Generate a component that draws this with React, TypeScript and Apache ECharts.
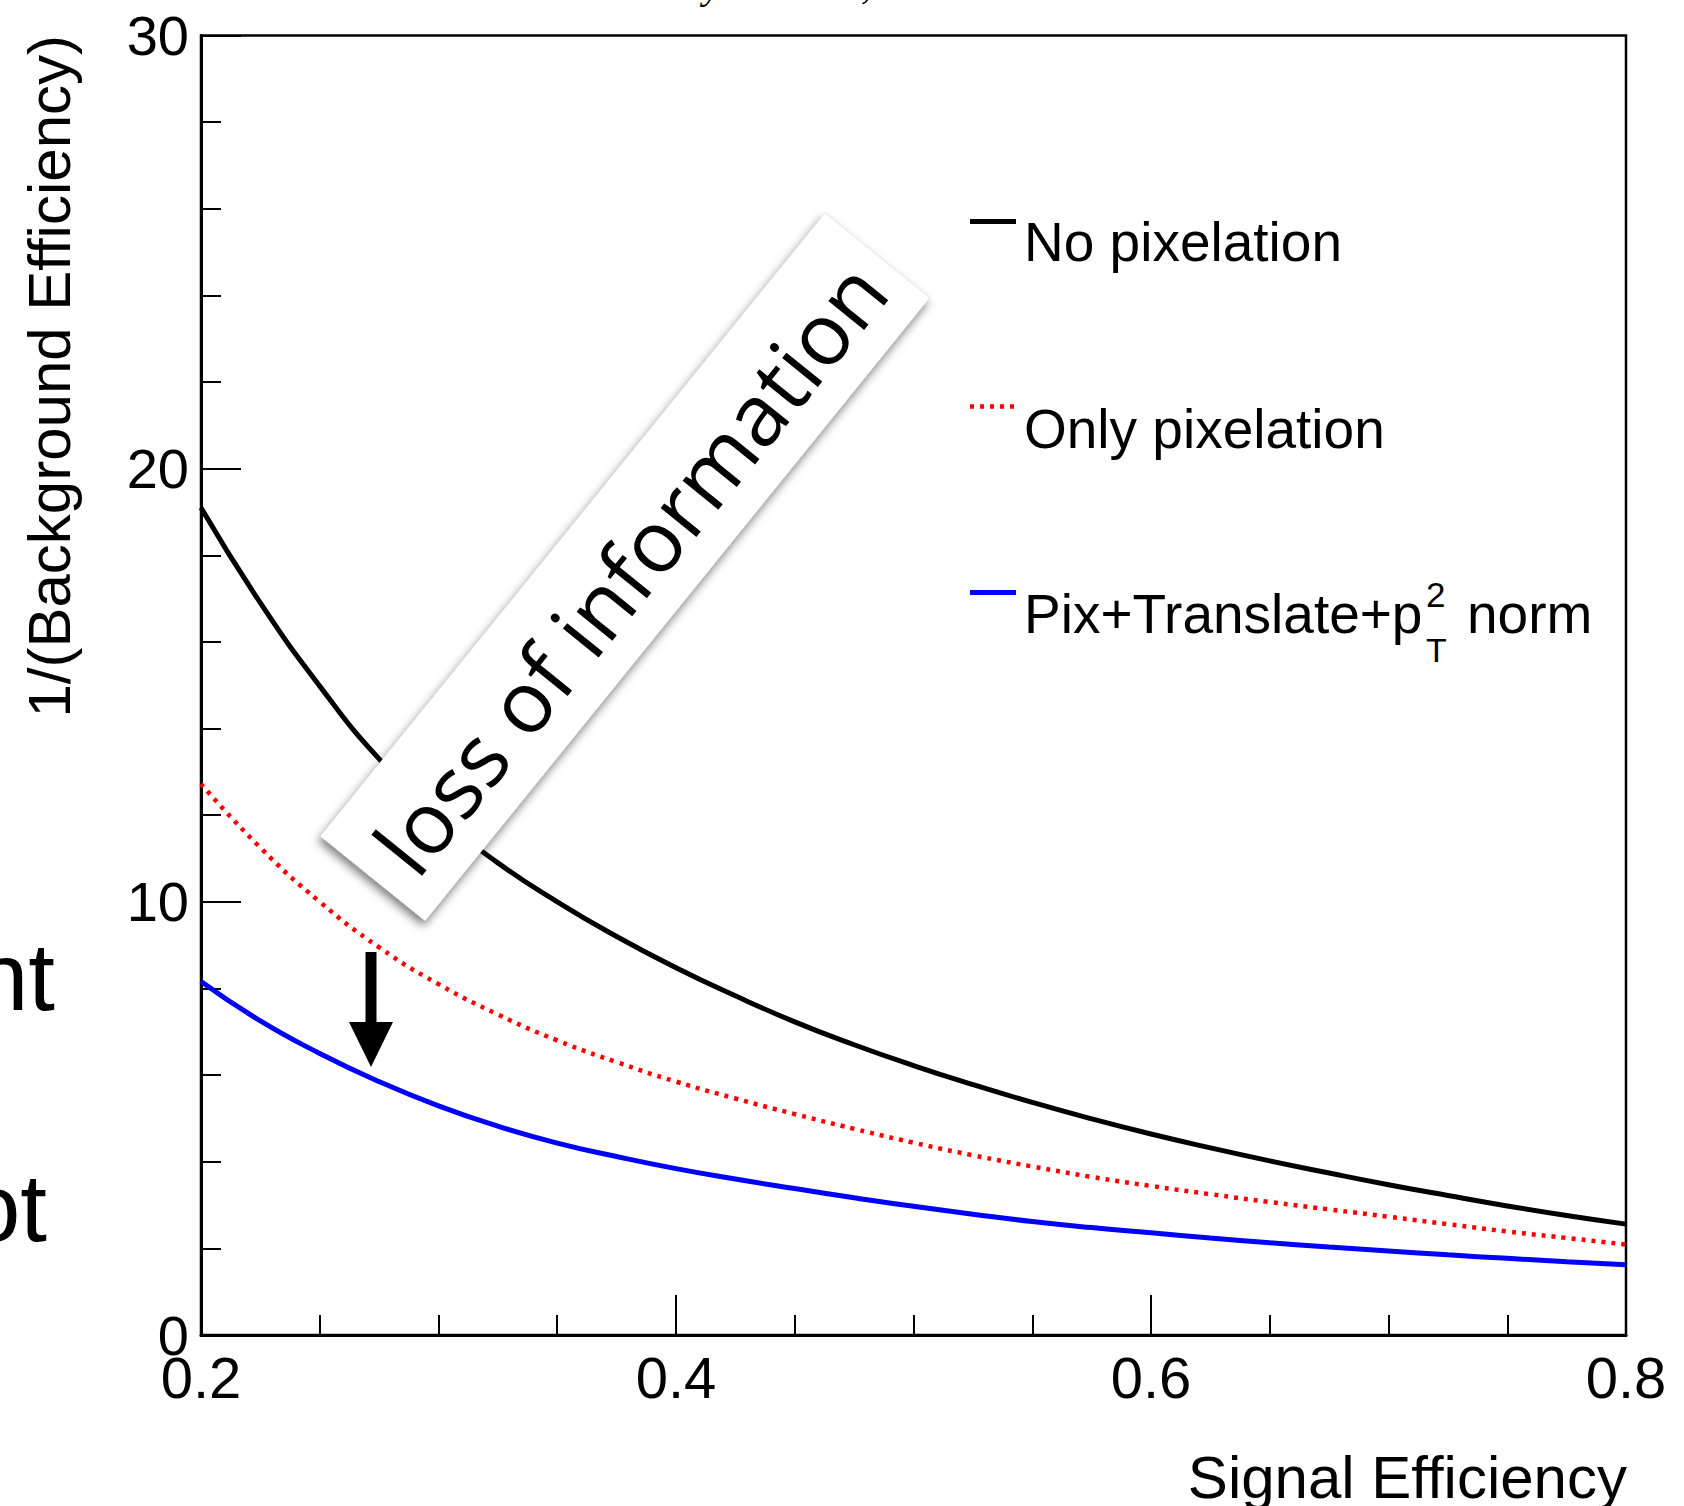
import React, { useEffect, useRef } from "react";
import * as echarts from "echarts";

// ---- data ----
const signalEff = [0.2, 0.225, 0.25, 0.275, 0.3, 0.325, 0.35, 0.375, 0.4, 0.425, 0.45, 0.475, 0.5, 0.525, 0.55, 0.575, 0.6, 0.625, 0.65, 0.675, 0.7, 0.725, 0.75, 0.775, 0.8];
const noPixelation = [19.1, 16.9, 14.98, 13.3, 11.98, 10.9, 10.0, 9.2, 8.48, 7.83, 7.23, 6.7, 6.22, 5.78, 5.37, 4.99, 4.64, 4.32, 4.02, 3.74, 3.47, 3.22, 2.98, 2.76, 2.56];
const onlyPixelation = [12.72, 11.25, 10.0, 8.95, 8.1, 7.4, 6.8, 6.3, 5.85, 5.46, 5.1, 4.76, 4.44, 4.15, 3.89, 3.65, 3.44, 3.25, 3.07, 2.9, 2.73, 2.56, 2.39, 2.24, 2.09];
const pixTranslateNorm = [8.16, 7.25, 6.5, 5.85, 5.29, 4.82, 4.43, 4.12, 3.84, 3.6, 3.38, 3.17, 2.97, 2.79, 2.62, 2.48, 2.36, 2.24, 2.13, 2.03, 1.94, 1.85, 1.77, 1.69, 1.62];
const seriesNames = ["No pixelation", "Only pixelation", "Pix+Translate+p_T^2 norm"];
const xTitle = "Signal Efficiency";
const yTitle = "1/(Background Efficiency)";
const annotation = "loss of information";

const W = 1684;
const H = 1506;
const FONT = "'Liberation Sans', Arial, Helvetica, sans-serif";

export default function App() {
  const ref = useRef<HTMLDivElement>(null);
  useEffect(() => {
    if (!ref.current) return;
    const chart = echarts.init(ref.current, undefined, { renderer: "svg" });

    const toPairs = (ys: number[]) => signalEff.map((x, i) => [x, ys[i]]);

    // rotated annotation box
    const cx = 625, cy = 567, len = 802, hgt = 135;
    const th = (51 * Math.PI) / 180;
    const ux = Math.cos(th), uy = -Math.sin(th);
    const nx = Math.sin(th), ny = Math.cos(th);
    const corner = (a: number, b: number) => [cx + ux * a + nx * b, cy + uy * a + ny * b];
    const boxPts = [corner(-len / 2, -hgt / 2), corner(len / 2, -hgt / 2), corner(len / 2, hgt / 2), corner(-len / 2, hgt / 2)];

    // arrow
    const ax = 371;
    const arrowPts = [
      [ax - 5.5, 952], [ax + 5.5, 952], [ax + 5.5, 1022], [ax + 22, 1022],
      [ax, 1067], [ax - 22, 1022], [ax - 5.5, 1022],
    ];

    const legX0 = 970, legX1 = 1016, legText = 1024;
    const legY = [221.5, 406.5, 592.5];
    const legTextY = [242, 429, 614];

    const lineCommon = { type: "line", smooth: 0.5, showSymbol: false, z: 3 };

    const option: any = {
      animation: false,
      backgroundColor: "#fff",
      grid: {
        left: 201, right: W - 1626, top: 35.5, bottom: H - 1335,
        show: true, borderColor: "#000", borderWidth: 2.5, backgroundColor: "transparent",
      },
      xAxis: {
        type: "value", min: 0.2, max: 0.8, interval: 0.2,
        axisLine: { show: true, lineStyle: { color: "#000", width: 3 } },
        axisTick: { show: true, inside: true, length: 40, lineStyle: { color: "#000", width: 2 } },
        minorTick: { show: true, splitNumber: 4, length: 20, lineStyle: { color: "#000", width: 2 } },
        splitLine: { show: false },
        axisLabel: {
          margin: 13, color: "#000", fontSize: 58, fontFamily: FONT,
          showMinLabel: true, showMaxLabel: true,
          formatter: (v: number) => v.toFixed(1),
        },
      },
      yAxis: {
        type: "value", min: 0, max: 30, interval: 10,
        axisLine: { show: true, lineStyle: { color: "#000", width: 3 } },
        axisTick: { show: true, inside: true, length: 40, lineStyle: { color: "#000", width: 2 } },
        minorTick: { show: true, splitNumber: 5, length: 20, lineStyle: { color: "#000", width: 2 } },
        splitLine: { show: false },
        axisLabel: { margin: 12, color: "#000", fontSize: 56, fontFamily: FONT },
      },
      series: [
        { ...lineCommon, name: seriesNames[0], data: toPairs(noPixelation), lineStyle: { color: "#000", width: 5 } },
        { ...lineCommon, name: seriesNames[1], data: toPairs(onlyPixelation), lineStyle: { color: "#ff0000", width: 4.5, type: [4, 6] } },
        { ...lineCommon, name: seriesNames[2], data: toPairs(pixTranslateNorm), lineStyle: { color: "#0000ff", width: 5 } },
      ],
      graphic: [
        // axis titles
        {
          type: "text", x: 1627, y: 1477, z: 10,
          style: { text: xTitle, fill: "#000", font: `60px ${FONT}`, align: "right", verticalAlign: "middle" },
        },
        {
          type: "text", x: 49, y: 35, rotation: Math.PI / 2, z: 10,
          style: { text: yTitle, fill: "#000", font: `60px ${FONT}`, align: "right", verticalAlign: "middle" },
        },
        // legend
        { type: "line", z: 10, shape: { x1: legX0, y1: legY[0], x2: legX1, y2: legY[0] }, style: { stroke: "#000", lineWidth: 5 } },
        { type: "line", z: 10, shape: { x1: legX0, y1: legY[1], x2: legX1, y2: legY[1] }, style: { stroke: "#ff0000", lineWidth: 4.5, lineDash: [4, 6] } },
        { type: "line", z: 10, shape: { x1: legX0, y1: legY[2], x2: legX1, y2: legY[2] }, style: { stroke: "#0000ff", lineWidth: 5 } },
        { type: "text", z: 10, x: legText, y: legTextY[0], style: { text: seriesNames[0], fill: "#000", font: `55px ${FONT}`, align: "left", verticalAlign: "middle" } },
        { type: "text", z: 10, x: legText, y: legTextY[1], style: { text: seriesNames[1], fill: "#000", font: `55px ${FONT}`, align: "left", verticalAlign: "middle" } },
        { type: "text", z: 10, x: legText, y: legTextY[2], style: { text: "Pix+Translate+p", fill: "#000", font: `55px ${FONT}`, align: "left", verticalAlign: "middle" } },
        { type: "text", z: 10, x: 1426, y: 594, style: { text: "2", fill: "#000", font: `35px ${FONT}`, align: "left", verticalAlign: "middle" } },
        { type: "text", z: 10, x: 1426, y: 650, style: { text: "T", fill: "#000", font: `34px ${FONT}`, align: "left", verticalAlign: "middle" } },
        { type: "text", z: 10, x: 1467, y: legTextY[2], style: { text: "norm", fill: "#000", font: `55px ${FONT}`, align: "left", verticalAlign: "middle" } },
        // annotation box
        {
          type: "polygon", z: 20, shape: { points: boxPts },
          style: { fill: "#fff", stroke: "rgba(0,0,0,0.08)", lineWidth: 1, shadowBlur: 10, shadowOffsetX: -2, shadowOffsetY: 5, shadowColor: "rgba(0,0,0,0.5)" },
        },
        {
          type: "text", z: 21, x: cx + 4, y: cy, rotation: th,
          style: { text: annotation, fill: "#000", font: `400 86px 'Open Sans', Lato, sans-serif`, align: "center", verticalAlign: "middle" },
        },
        // arrow
        { type: "polygon", z: 20, shape: { points: arrowPts }, style: { fill: "#000" } },
        // clipped fragments at page edges
        { type: "text", z: 5, x: 55, y: 976, style: { text: "nt", fill: "#000", font: `96px ${FONT}`, align: "right", verticalAlign: "middle" } },
        { type: "text", z: 5, x: 47, y: 1207, style: { text: "ot", fill: "#000", font: `96px ${FONT}`, align: "right", verticalAlign: "middle" } },
        { type: "text", z: 5, x: 712, y: -16, style: { text: "y", fill: "#000", font: `italic 40px 'Liberation Serif', serif`, align: "center", verticalAlign: "middle" } },
        { type: "text", z: 5, x: 866, y: -16, style: { text: ",", fill: "#000", font: `italic 40px 'Liberation Serif', serif`, align: "center", verticalAlign: "middle" } },
      ],
    };
    chart.setOption(option);
    return () => chart.dispose();
  }, []);
  return <div ref={ref} style={{ position: "fixed", left: 0, top: 0, width: W, height: H }} />;
}
